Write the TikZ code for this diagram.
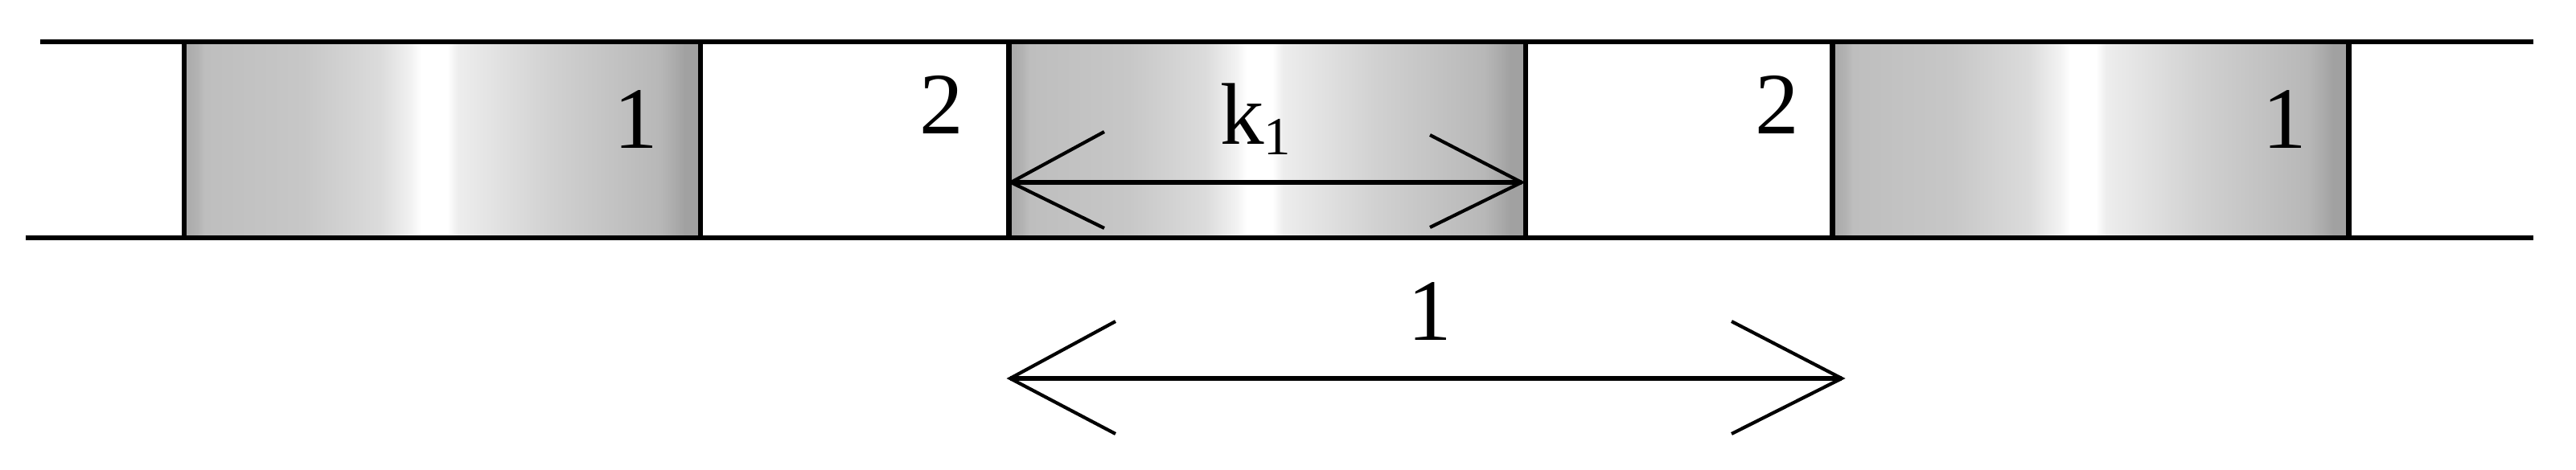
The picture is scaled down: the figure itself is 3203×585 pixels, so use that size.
\documentclass[tikz,border=0pt]{standalone}
\usepackage{fontspec}
\setmainfont{Liberation Serif}
\definecolor{s0}{gray}{0.66}
\definecolor{s1}{gray}{0.70}
\definecolor{s2}{gray}{0.745}
\definecolor{s3}{gray}{0.78}
\definecolor{s4}{gray}{0.86}
\definecolor{s5}{gray}{0.95}
\definecolor{s6}{gray}{1.00}
\definecolor{s7}{gray}{0.93}
\definecolor{s8}{gray}{0.82}
\definecolor{s9}{gray}{0.72}
\definecolor{s10}{gray}{0.67}
\definecolor{s11}{gray}{0.63}
\pgfdeclarehorizontalshading{cyl}{100bp}{color(0bp)=(s0); color(25bp)=(s0); color(26.3bp)=(s1); color(27bp)=(s2); color(36.5bp)=(s3); color(44bp)=(s4); color(47bp)=(s5); color(48bp)=(s6); color(50.5bp)=(s6); color(51.5bp)=(s7); color(60.5bp)=(s8); color(71bp)=(s9); color(72.5bp)=(s10); color(73.5bp)=(s11); color(75bp)=(s11); color(100bp)=(s11)}
\tikzset{
  cell/.style={shade, shading=cyl, draw=black, line width=0.065cm, inner sep=0pt, outer sep=0pt,
    minimum width=6.42cm, minimum height=2.44cm},
  wall/.style={line width=0.065cm, line cap=butt},
  shaft/.style={line width=0.065cm},
  arm/.style={line width=0.042cm, line join=miter},
  lab/.style={inner sep=0pt, outer sep=0pt, font=\fontsize{31pt}{36pt}\selectfont}
}
\begin{document}
\begin{tikzpicture}[x=0.01cm, y=-0.01cm]
\useasboundingbox (0,0) rectangle (3203,585);
% cells
\node[cell] (b1) at (550,174) {};
\node[cell] (b2) at (1575.7,174) {};
\node[cell] (b3) at (2599.5,174) {};
% channel walls
\coordinate (tl) at (50,52);
\coordinate (tr) at (3150,52);
\coordinate (bl) at (32,296);
\coordinate (br) at (3150,296);
\draw[wall] (tl) -- (tr);
\draw[wall] (bl) -- (br);
% labels
\node[lab, anchor=base] (l1) at (791,185) {1};
\node[lab, anchor=base] (l2a) at (1171,167) {2};
\node[lab, anchor=base] (l2b) at (2210,167) {2};
\node[lab, anchor=base] (l3) at (2841,185) {1};
\node[lab, anchor=base west] (lk) at (1517,180) {k\raisebox{-0.12cm}{\fontsize{19pt}{22pt}\selectfont 1}};
\node[lab, anchor=base] (lL) at (1778,423) {1};
% k1 dimension arrow
\coordinate (ka) at (1257,227);
\coordinate (kb) at (1892,227);
\draw[shaft] (ka) -- (kb);
\draw[arm] ([shift={(116,-63)}]ka) -- (ka) -- ([shift={(116,57)}]ka);
\draw[arm] ([shift={(-114,-59)}]kb) -- (kb) -- ([shift={(-114,56)}]kb);
% period arrow
\coordinate (pa) at (1256,471);
\coordinate (pb) at (2290,471);
\draw[shaft] (pa) -- (pb);
\draw[arm] ([shift={(131,-71)}]pa) -- (pa) -- ([shift={(131,69)}]pa);
\draw[arm] ([shift={(-137,-71)}]pb) -- (pb) -- ([shift={(-137,69)}]pb);
\end{tikzpicture}
\end{document}
